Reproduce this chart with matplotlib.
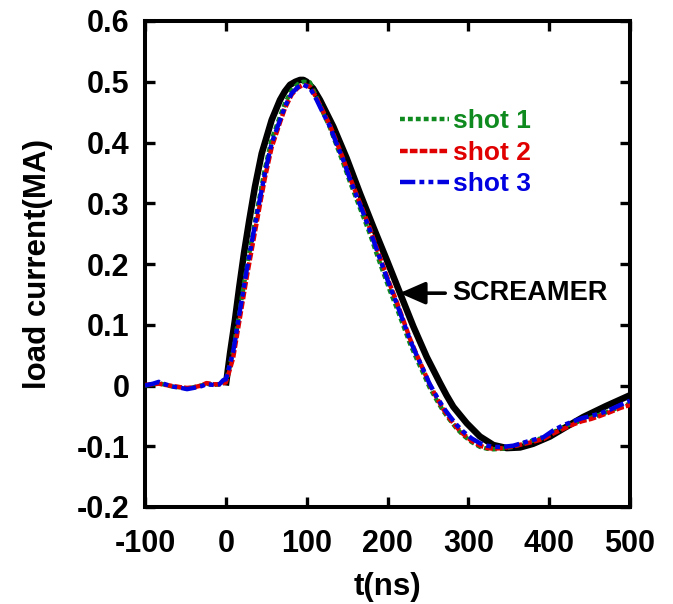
import matplotlib
matplotlib.use("Agg")
import matplotlib.pyplot as plt

plt.rcParams['font.family'] = ['Liberation Sans', 'DejaVu Sans']
plt.rcParams['font.weight'] = 'bold'
plt.rcParams['lines.scale_dashes'] = False

# SCREAMER simulation (t in ns, current in MA)
t_screamer = [0, 5.2, 11.3, 16.7, 22.5, 29, 36, 44.4, 56.7, 67, 73, 79.4, 86, 91.8, 96,
              100, 108, 116.5, 133, 149.5, 166, 182.4, 199, 215.5, 232, 248.5, 265, 273,
              281.4, 298, 314.4, 331, 347.5, 364, 380, 401, 420, 442, 470, 500]
i_screamer = [0.0, 0.053, 0.108, 0.163, 0.218, 0.272, 0.327, 0.382, 0.437, 0.470, 0.484,
              0.495, 0.500, 0.503, 0.503, 0.500, 0.489, 0.470, 0.426, 0.374, 0.316, 0.261,
              0.207, 0.152, 0.097, 0.047, 0.004, -0.016, -0.035, -0.062, -0.084, -0.098,
              -0.103, -0.102, -0.096, -0.084, -0.069, -0.052, -0.034, -0.016]

# measured shots
t_shot = [-100, -90, -83, -75, -65, -55, -48, -40, -30, -24,
          -15, -8, -3, 0, 4, 9, 17.5, 25.8, 34, 41.4,
          48.4, 56.7, 67, 73, 81.5, 89, 96, 104, 112.4, 120,
          128.9, 137, 145.3, 153, 161.9, 170, 178.4, 186, 194.8, 203,
          211.3, 220, 227.8, 236, 244.3, 252, 260.8, 269, 277.3, 285,
          293.8, 304, 314.4, 323, 331, 343, 355.7, 366, 376, 393,
          405, 418, 430, 440, 452, 463, 475, 488, 500]
i_shot1 = [0.000, 0.002, 0.004, 0.001, -0.002, -0.003, -0.005, -0.003, 0.000, 0.003,
           0.001, 0.002, 0.005, 0.006, 0.028, 0.055, 0.126, 0.194, 0.254, 0.308,
           0.357, 0.405, 0.443, 0.464, 0.486, 0.496, 0.500, 0.499, 0.474, 0.450,
           0.424, 0.395, 0.366, 0.337, 0.306, 0.278, 0.249, 0.219, 0.186, 0.156,
           0.128, 0.097, 0.069, 0.044, 0.020, -0.003, -0.024, -0.042, -0.057, -0.070,
           -0.082, -0.093, -0.101, -0.104, -0.105, -0.104, -0.101, -0.096, -0.092, -0.086,
           -0.077, -0.068, -0.062, -0.057, -0.053, -0.048, -0.042, -0.035, -0.030]
i_shot2 = [0.001, 0.002, 0.003, 0.001, -0.001, -0.003, -0.004, -0.003, 0.000, 0.004,
           0.002, 0.002, 0.004, 0.005, 0.022, 0.045, 0.112, 0.178, 0.238, 0.292,
           0.342, 0.392, 0.433, 0.456, 0.479, 0.490, 0.495, 0.492, 0.473, 0.452,
           0.428, 0.401, 0.373, 0.344, 0.314, 0.287, 0.258, 0.229, 0.196, 0.166,
           0.138, 0.106, 0.077, 0.051, 0.026, 0.002, -0.020, -0.039, -0.055, -0.068,
           -0.080, -0.091, -0.099, -0.103, -0.104, -0.103, -0.100, -0.097, -0.094, -0.088,
           -0.079, -0.071, -0.064, -0.059, -0.055, -0.050, -0.044, -0.037, -0.032]
i_shot3 = [0.000, 0.003, 0.006, 0.002, -0.002, -0.004, -0.006, -0.004, -0.001, 0.002,
           0.001, 0.002, 0.009, 0.010, 0.030, 0.055, 0.124, 0.190, 0.250, 0.302,
           0.350, 0.399, 0.437, 0.459, 0.481, 0.491, 0.495, 0.490, 0.470, 0.449,
           0.426, 0.398, 0.371, 0.342, 0.311, 0.284, 0.255, 0.226, 0.193, 0.163,
           0.135, 0.104, 0.075, 0.050, 0.026, 0.003, -0.018, -0.036, -0.051, -0.064,
           -0.076, -0.087, -0.095, -0.099, -0.101, -0.101, -0.099, -0.095, -0.091, -0.085,
           -0.074, -0.065, -0.059, -0.054, -0.050, -0.046, -0.040, -0.032, -0.025]

labels = ['shot 1', 'shot 2', 'shot 3']
colors = ['#0f8a1e', '#e00000', '#0000e0']
x_ticks = [-100, 0, 100, 200, 300, 400, 500]
y_ticks = [-0.2, -0.1, 0, 0.1, 0.2, 0.3, 0.4, 0.5, 0.6]
y_ticklabels = ['-0.2', '-0.1', '0', '0.1', '0.2', '0.3', '0.4', '0.5', '0.6']

fig = plt.figure(figsize=(6.73, 6.04), dpi=100)
ax = fig.add_axes([145 / 673, 1 - 507 / 604, 485 / 673, 486 / 604])

ax.plot(t_screamer, i_screamer, color='black', lw=4.7, zorder=2,
        solid_capstyle='butt', solid_joinstyle='round')
styles = [(0, (3.5, 2.2)), (0, (5.5, 1.6)), (0, (11, 3, 3.5, 3, 3.5, 3))]
for y, lab, c, ls in zip([i_shot1, i_shot2, i_shot3], labels, colors, styles):
    ax.plot(t_shot, y, color=c, lw=3.2, ls=ls, label=lab, zorder=3, dash_capstyle='butt')

ax.set_xlim(-100, 500)
ax.set_ylim(-0.2, 0.6)
ax.set_xticks(x_ticks)
ax.set_xticklabels([str(v) for v in x_ticks])
ax.set_yticks(y_ticks)
ax.set_yticklabels(y_ticklabels)
ax.tick_params(direction='in', length=7, width=2.4, top=True, right=True,
               labelsize=22, color='black')
ax.tick_params(axis='x', pad=16)
ax.tick_params(axis='y', pad=11)
for s in ax.spines.values():
    s.set_linewidth(2.9)

ax.set_xlabel('t(ns)', fontsize=22.5, fontweight='bold', labelpad=9)
ax.set_ylabel('load current(MA)', fontsize=22.5, fontweight='bold', labelpad=17)

leg = ax.legend(loc='upper left', bbox_to_anchor=(0.526, 0.818), frameon=False,
                fontsize=19, handlelength=1.85, handletextpad=0.15, labelspacing=0.28,
                labelcolor='linecolor', borderpad=0, borderaxespad=0)
for txt in leg.get_texts():
    txt.set_fontweight('bold')

ax.annotate('SCREAMER', xy=(215, 0.152), xytext=(280, 0.152), fontsize=19.5,
            fontweight='bold', va='center', ha='left',
            arrowprops=dict(arrowstyle='-|>,head_length=0.8,head_width=0.35',
                            color='black', lw=2.6, shrinkA=3, shrinkB=0))

fig.savefig('out.png', dpi=100)
